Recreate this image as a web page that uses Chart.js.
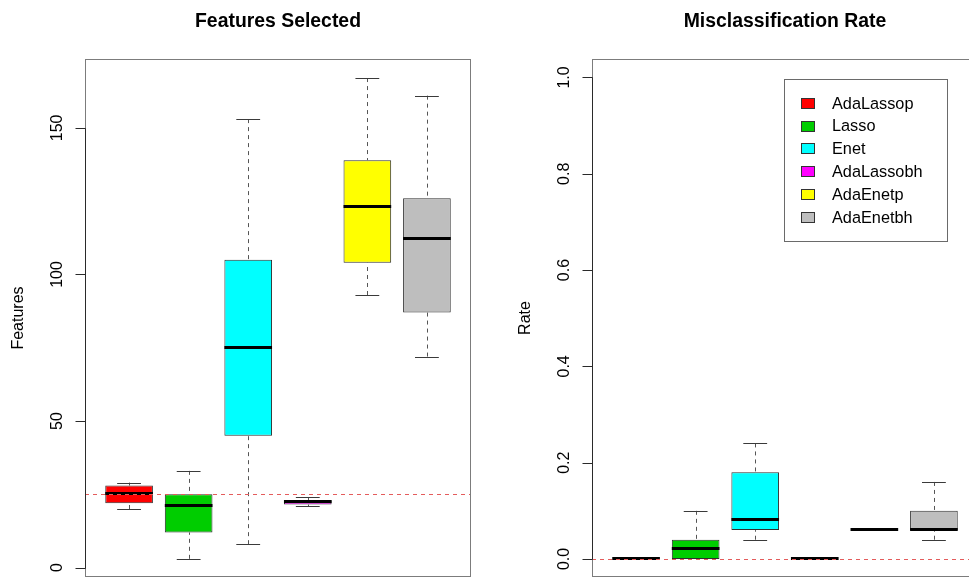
<!DOCTYPE html>
<html>
<head>
<meta charset="utf-8">
<script src="https://cdn.jsdelivr.net/npm/chart.js@4.4.0/dist/chart.umd.min.js"></script>
<style>
  html, body { margin: 0; padding: 0; background: #fff; overflow: hidden; width: 969px; height: 578px; }
  #wrap { position: relative; width: 969px; height: 578px; overflow: hidden; }
  canvas { position: absolute; top: 0; }
  #featChart { left: 0; }
  #rateChart { left: 507px; }
</style>
</head>
<body>
<div id="wrap">
  <canvas id="featChart" width="507" height="578"></canvas>
  <canvas id="rateChart" width="507" height="578"></canvas>
</div>
<script>
// Methods compared and their box colours
const methods   = ['AdaLassop', 'Lasso', 'Enet', 'AdaLassobh', 'AdaEnetp', 'AdaEnetbh'];
const boxColors = ['#FF0000', '#00CD00', '#00FFFF', '#FF00FF', '#FFFF00', '#BEBEBE'];

// Number of features selected: whisker ends, quartiles and medians
const featLow    = [20, 3, 8, 21, 93, 72];
const featQ1     = [22, 12, 45, 21.5, 104, 87];
const featMedian = [25, 21, 75, 22.5, 123, 112];
const featQ3     = [28, 25, 105, 23, 139, 126];
const featHigh   = [29, 33, 153, 24, 167, 161];
const featTicks      = [0, 50, 100, 150];
const featTickLabels = ['0', '50', '100', '150'];
const featTarget = 25;

// Misclassification rate: whisker ends, quartiles and medians
const rateLow    = [0, 0, 0.04, 0, 0.06, 0.04];
const rateQ1     = [0, 0, 0.06, 0, 0.06, 0.06];
const rateMedian = [0, 0.02, 0.08, 0, 0.06, 0.06];
const rateQ3     = [0, 0.04, 0.18, 0, 0.06, 0.10];
const rateHigh   = [0, 0.10, 0.24, 0, 0.06, 0.16];
const rateTicks      = [0, 0.2, 0.4, 0.6, 0.8, 1.0];
const rateTickLabels = ['0.0', '0.2', '0.4', '0.6', '0.8', '1.0'];
const rateTarget = 0;

const FONT = '"Liberation Sans", Arial, Helvetica, sans-serif';
const px = v => Math.round(v) + 0.5;

// Whiskers, staples and medians on top of the floating-bar boxes,
// then the dashed reference line, frame, y axis, titles and legend.
const boxPlotPlugin = {
  id: 'boxPlotParts',
  afterDatasetsDraw(chart, args, o) {
    const { ctx, chartArea: a } = chart;
    const ys = chart.scales.y;
    const meta = chart.getDatasetMeta(0);
    ctx.save();

    meta.data.forEach((bar, i) => {
      const cx = px(bar.x);
      const w = bar.width;
      const yLow = ys.getPixelForValue(o.low[i]);
      const yQ1 = ys.getPixelForValue(o.q1[i]);
      const yQ3 = ys.getPixelForValue(o.q3[i]);
      const yHigh = ys.getPixelForValue(o.high[i]);
      const yMed = ys.getPixelForValue(o.median[i]);

      // dashed whiskers
      ctx.strokeStyle = '#555';
      ctx.lineWidth = 1;
      ctx.setLineDash([4, 4]);
      ctx.beginPath();
      if (o.high[i] > o.q3[i]) { ctx.moveTo(cx, yHigh); ctx.lineTo(cx, yQ3); }
      if (o.low[i] < o.q1[i]) { ctx.moveTo(cx, yLow); ctx.lineTo(cx, yQ1); }
      ctx.stroke();

      // staples
      ctx.setLineDash([]);
      ctx.strokeStyle = '#3a3a3a';
      ctx.beginPath();
      if (o.high[i] > o.q3[i]) { ctx.moveTo(bar.x - w / 4, px(yHigh)); ctx.lineTo(bar.x + w / 4, px(yHigh)); }
      if (o.low[i] < o.q1[i]) { ctx.moveTo(bar.x - w / 4, px(yLow)); ctx.lineTo(bar.x + w / 4, px(yLow)); }
      ctx.stroke();

      // median
      ctx.strokeStyle = '#000';
      ctx.lineWidth = 3;
      ctx.beginPath();
      ctx.moveTo(bar.x - w / 2, Math.round(yMed) - 0.5);
      ctx.lineTo(bar.x + w / 2, Math.round(yMed) - 0.5);
      ctx.stroke();
    });

    // dashed reference line
    const yRef = px(ys.getPixelForValue(o.target));
    ctx.strokeStyle = '#e45c5c';
    ctx.lineWidth = 1;
    ctx.setLineDash([4, 4]);
    ctx.beginPath();
    ctx.moveTo(a.left, yRef);
    ctx.lineTo(a.right, yRef);
    ctx.stroke();
    ctx.setLineDash([]);

    // plot frame
    ctx.strokeStyle = '#7c7c7c';
    ctx.lineWidth = 1;
    ctx.strokeRect(px(a.left), px(a.top), Math.round(a.right) - Math.round(a.left) - 1, Math.round(a.bottom) - Math.round(a.top) - 1);

    // y axis: line, ticks and rotated labels
    const ax = px(a.left);
    const tickPix = o.ticks.map(t => px(ys.getPixelForValue(t)));
    ctx.strokeStyle = '#2a2a2a';
    ctx.beginPath();
    ctx.moveTo(ax, tickPix[0]);
    ctx.lineTo(ax, tickPix[tickPix.length - 1]);
    tickPix.forEach(ty => { ctx.moveTo(ax - 10, ty); ctx.lineTo(ax, ty); });
    ctx.stroke();

    ctx.fillStyle = '#000';
    ctx.font = '16px ' + FONT;
    ctx.textAlign = 'center';
    ctx.textBaseline = 'alphabetic';
    o.ticks.forEach((t, k) => {
      ctx.save();
      ctx.translate(a.left - 23, ys.getPixelForValue(t));
      ctx.rotate(-Math.PI / 2);
      ctx.fillText(o.tickLabels[k], 0, 0);
      ctx.restore();
    });

    // axis title
    ctx.save();
    ctx.translate(a.left - 62, (a.top + a.bottom) / 2);
    ctx.rotate(-Math.PI / 2);
    ctx.fillText(o.yTitle, 0, 0);
    ctx.restore();

    // main title
    ctx.font = 'bold 19.4px ' + FONT;
    ctx.fillText(o.title, (a.left + a.right) / 2, 27);

    // legend
    if (o.legend) {
      const lx = a.right - 194, ly = a.top + 20, lw = 163, lh = 162;
      ctx.strokeStyle = '#6a6a6a';
      ctx.strokeRect(px(lx), px(ly), lw, lh);
      ctx.font = '16.3px ' + FONT;
      ctx.textAlign = 'left';
      methods.forEach((m, k) => {
        const cy = ly + 23.7 + k * 22.8;
        ctx.fillStyle = boxColors[k];
        ctx.fillRect(Math.round(lx + 17), Math.round(cy - 5), 14, 11);
        ctx.strokeStyle = '#333';
        ctx.strokeRect(Math.round(lx + 17) + 0.5, Math.round(cy - 5) + 0.5, 13, 10);
        ctx.fillStyle = '#000';
        ctx.fillText(m, lx + 48, cy + 5.8);
      });
    }
    ctx.restore();
  }
};

function boxChart(canvasId, q1, q3, parts, yMin, yMax) {
  return new Chart(document.getElementById(canvasId), {
    type: 'bar',
    data: {
      datasets: [{
        data: methods.map((m, i) => ({ x: i + 1, y: [q1[i], q3[i]] })),
        backgroundColor: boxColors,
        borderColor: '#2e2e2e',
        borderWidth: 1,
        borderSkipped: false,
        barPercentage: 0.8,
        categoryPercentage: 1.0
      }]
    },
    options: {
      responsive: false,
      maintainAspectRatio: false,
      animation: false,
      layout: { padding: { left: 85, right: 36, top: 59, bottom: 1 } },
      scales: {
        x: {
          type: 'linear', display: false, offset: false, min: 0.26, max: 6.74,
          // one tick per box so the bar width follows the box spacing
          afterBuildTicks: s => { s.ticks = methods.map((m, i) => ({ value: i + 1 })); }
        },
        y: { type: 'linear', display: false, min: yMin, max: yMax }
      },
      plugins: {
        legend: { display: false },
        tooltip: { enabled: false },
        boxPlotParts: parts
      }
    },
    plugins: [boxPlotPlugin]
  });
}

boxChart('featChart', featQ1, featQ3, {
  low: featLow, q1: featQ1, median: featMedian, q3: featQ3, high: featHigh,
  ticks: featTicks, tickLabels: featTickLabels, target: featTarget,
  title: 'Features Selected', yTitle: 'Features', legend: false
}, -3.2, 173.5);

boxChart('rateChart', rateQ1, rateQ3, {
  low: rateLow, q1: rateQ1, median: rateMedian, q3: rateQ3, high: rateHigh,
  ticks: rateTicks, tickLabels: rateTickLabels, target: rateTarget,
  title: 'Misclassification Rate', yTitle: 'Rate', legend: true
}, -0.0374, 1.0384);
</script>
</body>
</html>
